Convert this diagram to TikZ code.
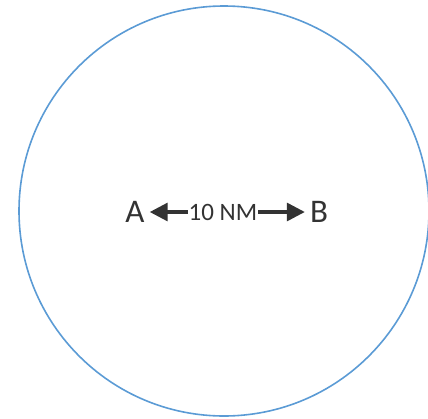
\documentclass[tikz,border=0pt]{standalone}
\usepackage{fontspec}
\setmainfont{Carlito}
\usetikzlibrary{arrows.meta}
\definecolor{ringblue}{HTML}{5B9BD5}
\definecolor{inkgray}{HTML}{333333}
\begin{document}
\begin{tikzpicture}[
	x=1pt, y=-1pt,
	% Define the style for the nodes
	every node/.style={text=inkgray, inner sep=1pt},
	point/.style={font=\fontsize{33}{33}\selectfont, inner sep=5pt},
	dist/.style={font=\fontsize{25}{25}\selectfont},
	gap/.style={draw=inkgray, line width=3.2pt, -{Triangle[width=18pt,length=18pt]}}
	]
	\useasboundingbox (0,0) rectangle (428,418);
	
	% --- RING ---
	\draw[ringblue, line width=1.6pt] (224,211) circle (205);
	
	% --- POINTS ---
	\node[point] (a) at (135,212) {A};
	\node[point] (b) at (319,212) {B};
	\node[dist] (d) at (223,212) {10 NM};
	
	% --- ARROWS ---
	\draw[gap] (d.west) -- (a.east);
	\draw[gap] (d.east) -- (b.west);
	
\end{tikzpicture}
\end{document}
